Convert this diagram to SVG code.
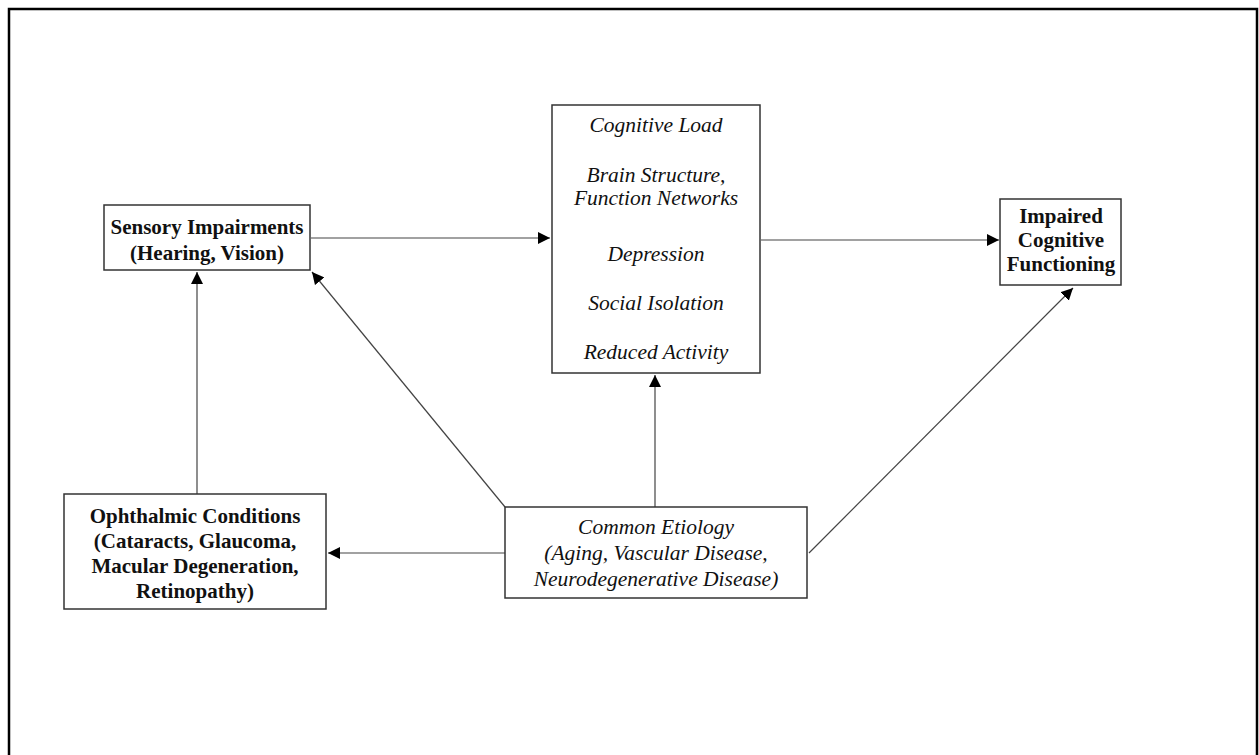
<svg xmlns="http://www.w3.org/2000/svg" width="1259" height="755" viewBox="0 0 1259 755">
<style>
.box{fill:#fff;stroke:#333;stroke-width:1.5}
.b{font-family:"Liberation Serif","Times New Roman",serif;font-weight:bold;font-size:21px;fill:#111;text-anchor:middle}
.i{font-family:"Liberation Serif","Times New Roman",serif;font-style:italic;font-size:21.5px;fill:#111;text-anchor:middle}
.c{stroke:#444;stroke-width:1.2;fill:none;marker-end:url(#ah)}
</style>
<defs>
<marker id="ah" viewBox="0 0 10 10" refX="10" refY="5" markerWidth="12" markerHeight="12" markerUnits="userSpaceOnUse" orient="auto">
<path d="M0,0 L10,5 L0,10 z" fill="#000"/>
</marker>
</defs>
<rect x="0" y="0" width="1259" height="755" fill="#fff"/>
<path d="M9,760 L9,9 L1257,9 L1257,760" fill="none" stroke="#000" stroke-width="2.5"/>
<g id="connectors">
<line class="c" x1="311" y1="238" x2="550" y2="238"/>
<line class="c" x1="761" y1="240" x2="999" y2="240"/>
<line class="c" x1="197" y1="494" x2="197" y2="272"/>
<line class="c" x1="505" y1="507" x2="312" y2="272"/>
<line class="c" x1="655" y1="507" x2="655" y2="375"/>
<line class="c" x1="505" y1="553" x2="328" y2="553"/>
<line class="c" x1="809" y1="553" x2="1073" y2="288"/>
</g>
<g id="sensory">
<rect class="box" x="104" y="205" width="206" height="65"/>
<text class="b" x="207" y="234">Sensory Impairments</text>
<text class="b" x="207" y="260">(Hearing, Vision)</text>
</g>
<g id="mediators">
<rect class="box" x="552" y="105" width="208" height="268"/>
<text class="i" x="656" y="132">Cognitive Load</text>
<text class="i" x="656" y="182">Brain Structure,</text>
<text class="i" x="656" y="205">Function Networks</text>
<text class="i" x="656" y="261">Depression</text>
<text class="i" x="656" y="310">Social Isolation</text>
<text class="i" x="656" y="359">Reduced Activity</text>
</g>
<g id="impaired">
<rect class="box" x="1000" y="199" width="121" height="86"/>
<text class="b" x="1061" y="223">Impaired</text>
<text class="b" x="1061" y="247">Cognitive</text>
<text class="b" x="1061" y="271">Functioning</text>
</g>
<g id="ophthalmic">
<rect class="box" x="64" y="494" width="262" height="115"/>
<text class="b" x="195" y="523">Ophthalmic Conditions</text>
<text class="b" x="195" y="548">(Cataracts, Glaucoma,</text>
<text class="b" x="195" y="573">Macular Degeneration,</text>
<text class="b" x="195" y="598">Retinopathy)</text>
</g>
<g id="etiology">
<rect class="box" x="505" y="507" width="302" height="91"/>
<text class="i" x="656" y="534">Common Etiology</text>
<text class="i" x="656" y="560">(Aging, Vascular Disease,</text>
<text class="i" x="656" y="586">Neurodegenerative Disease)</text>
</g>
</svg>
